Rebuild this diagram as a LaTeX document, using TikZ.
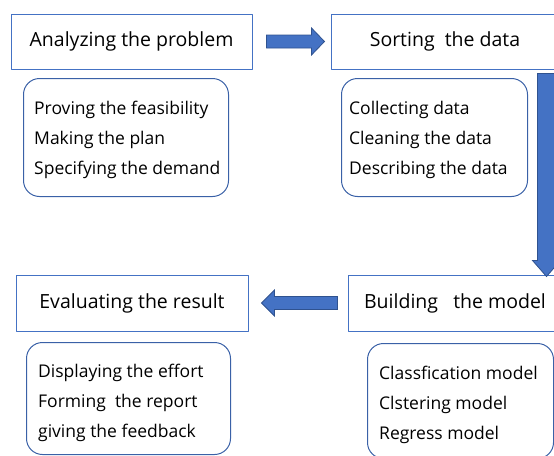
\documentclass[tikz,border=0pt]{standalone}
\usepackage{fontspec}
\setmainfont{Open Sans}
\usetikzlibrary{calc}
\usetikzlibrary{positioning}
\definecolor{ppblue}{HTML}{4472C4}
\definecolor{ppdark}{HTML}{2F528F}
\tikzset{stagebox/.style={draw=ppblue,line width=1pt,minimum height=55pt,inner sep=0pt,font=\fontsize{19.5}{22}\selectfont},
  taskbox/.style={draw=ppblue!85!black,line width=1pt,rounded corners=16pt,inner sep=0pt},
  tasklist/.style={align=left,inner sep=0pt,font=\fontsize{17.5}{30}\selectfont},
  barrow/.style={fill=ppblue,draw=ppdark,line width=0.8pt,line join=miter}}

\begin{document}
\begin{tikzpicture}[x=1pt,y=-1pt,line join=round]
\useasboundingbox (0,0) rectangle (554,455);
\clip (0,0) rectangle (554,455);
% --- the four stages
\node[stagebox,minimum width=241pt] (ana) at (131.5,41.5) {Analyzing the problem};
\node[stagebox,minimum width=228pt] (sort) at (445,41.5) {Sorting\ \ the data};
\node[stagebox,minimum width=214pt,minimum height=56pt] (build) at (455,303) {Building\ \ \ the model};
\node[stagebox,minimum width=232pt,minimum height=56pt] (eval) at (132,303) {Evaluating the result};
% --- tasks under each stage
\node[taskbox,minimum width=205pt,minimum height=118pt,anchor=north west] (prob) at (23,78) {};
\node[tasklist,anchor=west] (probl) at ($(prob.west)+(11,2.5)$) {Proving the feasibility\\Making the plan\\Specifying the demand};
\node[taskbox,minimum width=186pt,minimum height=118pt,anchor=north west] (data) at (341,78) {};
\node[tasklist,anchor=west] (datal) at ($(data.west)+(8,2.5)$) {Collecting data\\Cleaning the data\\Describing the data};
\node[taskbox,minimum width=186pt,minimum height=115pt,anchor=north west] (model) at (367,343) {};
\node[tasklist,anchor=west] (modell) at ($(model.west)+(12,3.5)$) {Classfication model\\Clstering model\\Regress model};
\node[taskbox,minimum width=204pt,minimum height=112pt,anchor=north west] (res) at (26,342) {};
\node[tasklist,anchor=west] (resl) at ($(res.west)+(12,4)$) {Displaying the effort\\Forming\ \ the report\\giving the feedback};
% --- block arrows between stages
\filldraw[barrow] ($(ana.east)+(14,-6.5)$) -- ++(45,0) -- ++(0,-7) -- ++(13,13.5) -- ++(-13,13.5) -- ++(0,-7) -- ++(-45,0) -- cycle;
\filldraw[barrow] ($(sort.south east)+(-22,4)$) -- ++(0,187) -- ++(-5,0) -- ++(14,16) -- ++(14,-16) -- ++(-5,0) -- ++(0,-187) -- cycle;
\filldraw[barrow] ($(build.west)+(-10,-6.5)$) -- ++(-63,0) -- ++(0,-6.5) -- ++(-13,13) -- ++(13,13) -- ++(0,-6.5) -- ++(63,0) -- cycle;
\end{tikzpicture}
\end{document}
